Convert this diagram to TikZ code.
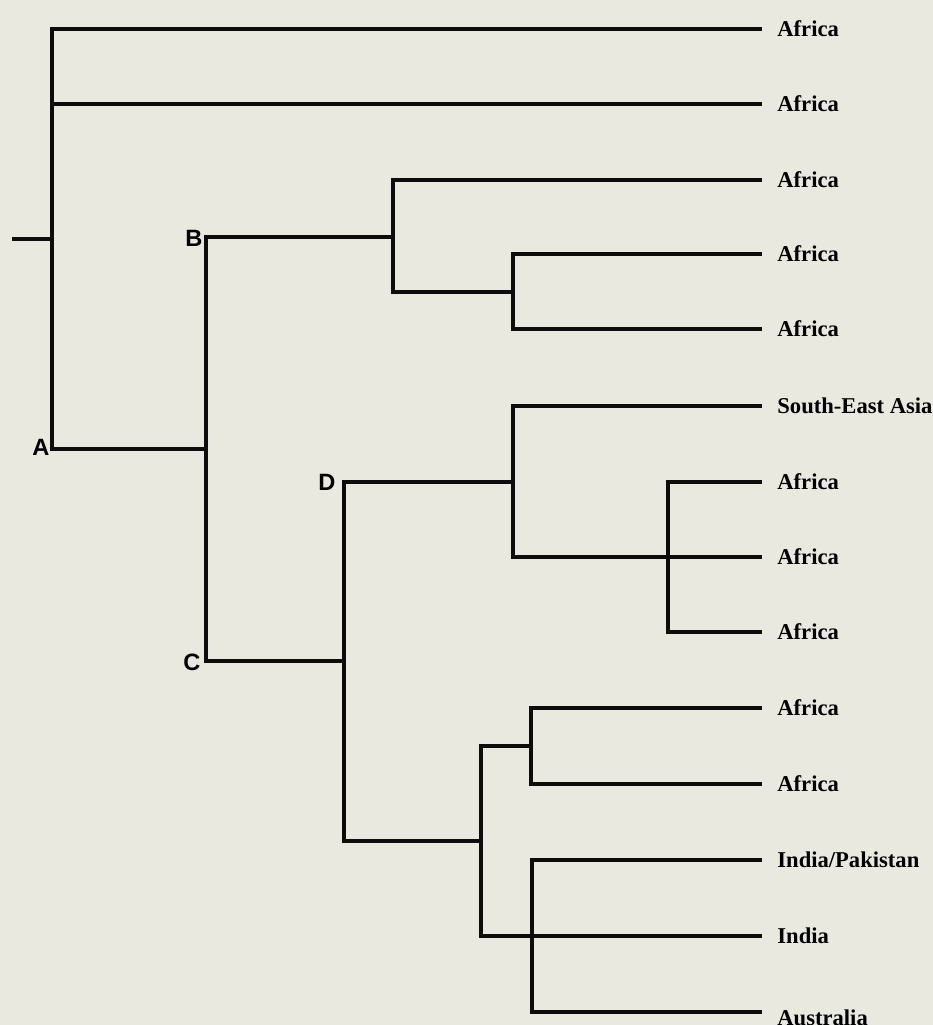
\documentclass[tikz,border=0pt]{standalone}
\usepackage{fontspec}
\setmainfont{Liberation Serif}
\setsansfont{Liberation Sans}
\usetikzlibrary{positioning}
\definecolor{paper}{RGB}{233,233,223}

\begin{document}
\begin{tikzpicture}[x=0.5pt, y=-0.5pt,
                branch/.style={line width=1.7pt, black!95},
                taxon/.style={inner sep=0pt, font=\fontsize{11.3}{13}\selectfont\bfseries},
                clade/.style={inner sep=0pt, font=\sffamily\fontsize{11.8}{13}\selectfont\bfseries}]

            \fill[paper] (0,0) rectangle (933,1025);
            \useasboundingbox (0,0) rectangle (933,1025);
            \clip (0,0) rectangle (933,1025);

            % internal nodes
            \coordinate (root) at (12,239);
            \coordinate (nA) at (52,239);
            \coordinate (nBC) at (206,449);
            \coordinate (nB) at (393,237);
            \coordinate (nB2) at (513,292);
            \coordinate (nC) at (344,661);
            \coordinate (nD) at (513,482);
            \coordinate (nD2) at (668,557);
            \coordinate (nE) at (481,841);
            \coordinate (nE1) at (531,746);
            \coordinate (nE2) at (532,936);

            % leaf ends
            \foreach \i/\y in {1/29, 2/104, 3/180, 4/254, 5/329, 6/406, 7/482, 8/557,
                               9/632, 10/708, 11/784, 12/860, 13/936, 14/1012}
                \coordinate (l\i) at (762,\y);

            \draw[branch] (root) -- (nA);
            \draw[branch] (nA) |- (l1);
            \draw[branch] (nA) |- (l2);
            \draw[branch] (nA) |- (nBC);
            \draw[branch] (nBC) |- (nB);
            \draw[branch] (nBC) |- (nC);
            \draw[branch] (nB) |- (l3);
            \draw[branch] (nB) |- (nB2);
            \draw[branch] (nB2) |- (l4);
            \draw[branch] (nB2) |- (l5);
            \draw[branch] (nC) |- (nD);
            \draw[branch] (nC) |- (nE);
            \draw[branch] (nD) |- (l6);
            \draw[branch] (nD) |- (nD2);
            \draw[branch] (nD2) |- (l7);
            \draw[branch] (nD2) -- (l8);
            \draw[branch] (nD2) |- (l9);
            \draw[branch] (nE) |- (nE1);
            \draw[branch] (nE) |- (nE2);
            \draw[branch] (nE1) |- (l10);
            \draw[branch] (nE1) |- (l11);
            \draw[branch] (nE2) |- (l12);
            \draw[branch] (nE2) -- (l13);
            \draw[branch] (nE2) |- (l14);

            \node[clade] (labA) at (41,447) {A};
            \node[clade] (labB) at (194,238) {B};
            \node[clade] (labC) at (192,662) {C};
            \node[clade] (labD) at (327,482) {D};

            \foreach \i/\name in {1/Africa, 2/Africa, 3/Africa, 4/Africa, 5/Africa,
                                  6/South-East Asia, 7/Africa, 8/Africa, 9/Africa,
                                  10/Africa, 11/Africa, 12/India\slash Pakistan, 13/India}
                \node[taxon, right=7.5pt of l\i] (t\i) {\name};
            \node[taxon, right=7.5pt of l14, yshift=-3pt] (t14) {Australia};
        \end{tikzpicture}
\end{document}
